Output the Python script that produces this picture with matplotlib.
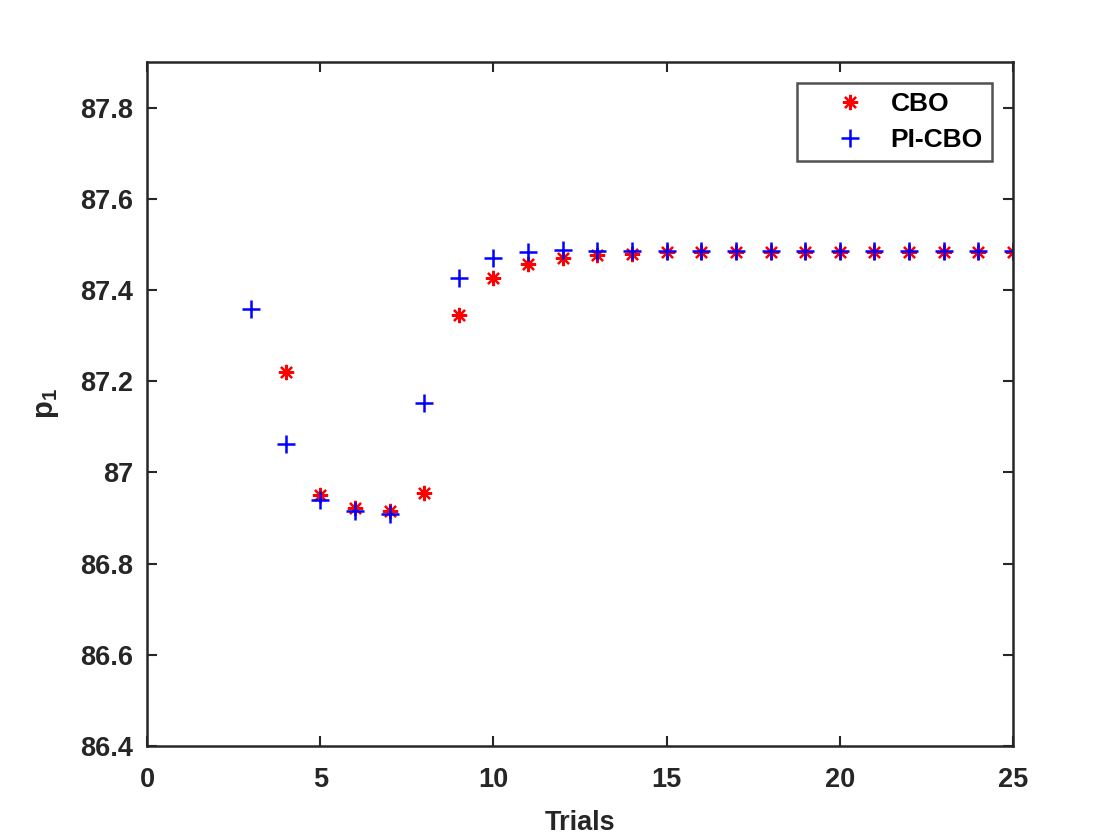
import matplotlib
matplotlib.use("Agg")
import matplotlib.pyplot as plt

# values
trials_cbo = list(range(4, 26))
p1_cbo = [87.220, 86.951, 86.923, 86.916, 86.955, 87.345, 87.427, 87.457,
          87.470, 87.476, 87.479, 87.484, 87.484, 87.484, 87.484, 87.484,
          87.484, 87.484, 87.484, 87.484, 87.484, 87.484]

trials_pi = list(range(3, 26))
p1_pi = [87.359, 87.062, 86.940, 86.916, 86.908, 87.153, 87.426, 87.471,
         87.483, 87.487, 87.486, 87.486, 87.486, 87.486, 87.486, 87.486,
         87.486, 87.486, 87.486, 87.486, 87.486, 87.486, 87.486]

xticks = [0, 5, 10, 15, 20, 25]
yticks = [86.4, 86.6, 86.8, 87.0, 87.2, 87.4, 87.6, 87.8]
ytick_labels = ["86.4", "86.6", "86.8", "87", "87.2", "87.4", "87.6", "87.8"]

plt.rcParams["font.family"] = ["Liberation Sans", "DejaVu Sans"]
plt.rcParams["font.weight"] = "bold"
plt.rcParams["mathtext.fontset"] = "custom"
plt.rcParams["mathtext.rm"] = "Liberation Sans:bold"
plt.rcParams["mathtext.bf"] = "Liberation Sans:bold"
plt.rcParams["mathtext.it"] = "Liberation Sans:bold"

fig = plt.figure(figsize=(11.2, 8.4), dpi=100)
ax = fig.add_axes([0.1313, 0.1119, 0.7732, 0.8143])

ax.plot(trials_cbo, p1_cbo, linestyle="none", marker=(8, 2, 0), color="red",
        markersize=11, markeredgewidth=1.6, label="CBO")
ax.plot(trials_pi, p1_pi, linestyle="none", marker="+", color="blue",
        markersize=13, markeredgewidth=1.8, label="PI-CBO")

ax.set_xlim(0, 25)
ax.set_ylim(86.4, 87.9)
ax.set_xticks(xticks)
ax.set_yticks(yticks)
ax.set_yticklabels(ytick_labels)

for side in ax.spines.values():
    side.set_linewidth(1.8)
    side.set_color("#262626")
ax.tick_params(direction="in", length=7, width=1.5, colors="#262626",
               labelsize=19.5, top=True, right=True)
ax.tick_params(axis="y", pad=10)
ax.tick_params(axis="x", pad=15)
for lab in ax.get_xticklabels() + ax.get_yticklabels():
    lab.set_fontweight("bold")

ax.set_xlabel("Trials", fontsize=19.5, fontweight="bold", color="#262626", labelpad=12)
ax.set_ylabel(r"$\mathrm{p}_1$", fontsize=21, color="#262626", labelpad=14)

leg = ax.legend(loc="upper right", fontsize=19, borderaxespad=0.8,
                frameon=True, fancybox=False, edgecolor="#262626",
                handletextpad=-0.13, borderpad=0.35, labelspacing=0.45,
                handlelength=3.33)
leg.get_frame().set_linewidth(1.8)
for t in leg.get_texts():
    t.set_fontweight("bold")
    t.set_color("black")

fig.savefig("out.png", dpi=100)
